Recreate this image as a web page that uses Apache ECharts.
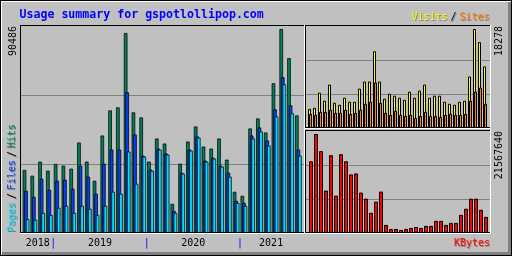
<!DOCTYPE html>
<html><head><meta charset="utf-8">
<script src="https://cdn.jsdelivr.net/npm/echarts@6/dist/echarts.min.js"></script>
<style>html,body{margin:0;padding:0;background:#c0c0c0}#c{width:512px;height:256px}</style>
</head><body><div id="c"></div>
<script>
const months = ['2018-09','2018-10','2018-11','2018-12',
 '2019-01','2019-02','2019-03','2019-04','2019-05','2019-06','2019-07','2019-08','2019-09','2019-10','2019-11','2019-12',
 '2020-01','2020-02','2020-03','2020-04','2020-05','2020-06','2020-07','2020-08','2020-09','2020-10','2020-11','2020-12',
 '2021-01','2021-02','2021-03','2021-04','2021-05','2021-06','2021-07','2021-08'];
const years = ['2018','2019','2020','2021'];
const hits = [28255,25726,31936,27944,30916,30162,28831,40364,31936,23509,43469,54558,55889,88712,53671,51453,31936,42138,39920,13307,31049,40808,47461,38590,37703,42138,32823,18630,16855,46574,51009,44800,66534,90486,77623,52340];
const files = [19073,16412,24396,19517,23509,23952,19960,30162,25283,17742,31049,37259,37259,62542,43912,34598,28388,37703,35485,10202,27057,37259,43025,32380,33711,30162,27057,14637,13750,43469,47017,41251,55001,69195,56776,37259];
const pages = [6520,6210,9315,8428,11533,12420,9315,12420,11089,8428,12420,18630,17742,36372,22178,34154,27944,37259,35041,9315,26614,36815,42582,31936,33267,29719,25283,13750,12420,42138,45243,39033,51897,66090,53227,34598];
const visits = [3693,3877,6647,5170,8124,4800,4431,5724,4985,4985,7385,8678,8678,14217,8678,5539,6462,6093,5724,5354,6831,5724,7016,8124,5724,6093,6093,4985,4616,4431,4985,5170,9601,18278,15878,11447];
const sites = [2769,2585,3139,3139,3508,2954,2954,3508,2769,2954,3508,4616,4985,8493,4800,2954,2585,3323,2585,2400,2585,2031,2400,3139,2400,2400,2216,2585,2769,2585,2585,2769,5170,6831,7570,4616];
const kbytes = [15685560,21567640,17864110,9367765,16992690,8278490,17210545,15685560,12853445,13071300,8932055,7624925,4574955,6971360,9149910,1960695,1089275,1089275,871420,1089275,1307130,1524985,1307130,1742840,1742840,2832115,2832115,1960695,2396405,2396405,4139245,5446375,7624925,7624925,5228520,3703535];
const title = 'Usage summary for gspotlollipop.com';

const C = {hit:'#00805c', file:'#0040ff', page:'#00e0ff', visit:'#ffff00', site:'#ff8000', kb:'#ff0000',
  bg:'#c0c0c0', dk:'#808080', blue:'#0000ff'};
const FONT = '10px "DejaVu Sans Mono"';

const chart = echarts.init(document.getElementById('c'), null, {renderer:'canvas'});
const idx = a => a.map((v,i)=>[i,v]);
const yAx = (g, max) => ({gridIndex:g, type:'value', min:0, max:max, interval:max/3,
  axisLine:{show:false}, axisTick:{show:false}, axisLabel:{show:false},
  splitLine:{show:true, showMinLine:false, showMaxLine:false, lineStyle:{color:C.dk, width:1}}});
const bar = (d, xi, color, w, gap, bw) => ({type:'bar', xAxisIndex:xi, yAxisIndex:xi, data:idx(d),
  barWidth:w, barGap:gap, itemStyle:{color:color, borderColor:'#000', borderWidth:bw}, silent:true});

chart.setOption({
  backgroundColor: C.bg,
  animation: false,
  grid: [
    {left:21, top:26, width:283, height:208},
    {left:306, top:26, width:184, height:103},
    {left:306, top:131, width:184, height:103}
  ],
  xAxis: [
    {gridIndex:0, type:'value', min:-0.649, max:35.726, show:false},
    {gridIndex:1, type:'value', min:-0.8, max:36.0, show:false},
    {gridIndex:2, type:'value', min:-1.0, max:35.8, show:false}
  ],
  yAxis: [yAx(0, 91810), yAx(1, 18826), yAx(2, 22214669)],
  series: [
    bar(hits, 0, C.hit, 3.6, '-56.9%', 0.75),
    bar(files, 0, C.file, 3.6, '-56.9%', 0.75),
    bar(pages, 0, C.page, 3.6, '-56.9%', 0.75),
    bar(visits, 1, C.visit, 3, '-66.667%', 1),
    bar(sites, 1, C.site, 3, '-66.667%', 1),
    bar(kbytes, 2, C.kb, 4, '-50%', 1)
  ]
});

const els = [];
const rect = (x,y,w,h,fill) => els.push({type:'rect', z:100, silent:true, shape:{x,y,width:w,height:h}, style:{fill}});
// outer frame
rect(0,0,512,1,'#000'); rect(0,0,1,256,'#000'); rect(511,0,1,256,'#000'); rect(0,255,512,1,'#000');
rect(1,1,510,1,'#fff'); rect(1,1,1,254,'#fff');
rect(2,252,509,3,C.dk); rect(508,2,3,253,C.dk);
// main panel
rect(21,234,283,1,C.bg);
rect(20,25,285,1,'#000'); rect(20,25,1,209,'#000'); rect(21,232,283,1,'#000');
rect(20,233,285,1,'#fff'); rect(304,25,1,209,'#fff');
// right top
rect(306,129,184,1,C.bg);
rect(305,25,186,1,'#000'); rect(305,25,1,104,'#000'); rect(306,127,184,1,'#000');
rect(305,128,186,1,'#fff'); rect(490,25,1,104,'#fff');
// right bottom
rect(306,234,184,1,C.bg);
rect(305,130,186,1,'#000'); rect(305,130,1,104,'#000'); rect(306,232,184,1,'#000');
rect(305,233,186,1,'#fff'); rect(490,130,1,104,'#fff');

function text(t, x, y, fill, o) {
  o = o || {};
  const el = {type:'text', z:200, silent:true, x:x, y:y, rotation:o.rot||0, scaleY:o.sy||1,
    style:{text:t, fill:fill, font:o.font||FONT, align:o.align||'left', verticalAlign:'middle'}};
  if (o.shadow) {
    const s = JSON.parse(JSON.stringify(el)); s.x += 1; s.y += 1; s.style.fill = C.dk; s.z = 199;
    els.push(s);
  }
  els.push(el);
}
const UP = Math.PI/2;
text(title, 19.5, 15, C.blue, {font:'bold 11.6px "DejaVu Sans Mono"'});
text('Visits', 411.5, 17, C.visit, {shadow:true, sy:1.12});
text('/', 450.5, 17, '#000', {shadow:true, sy:1.12});
text('Sites', 459.5, 17, C.site, {shadow:true, sy:1.12});
// left vertical legend
text('Pages', 12.5, 232, C.page, {rot:UP, shadow:true, sy:1.12});
text('/', 12.5, 199, '#000', {rot:UP, shadow:true, sy:1.12});
text('Files', 12.5, 190, C.file, {rot:UP, shadow:true, sy:1.12});
text('/', 12.5, 157, '#000', {rot:UP, shadow:true, sy:1.12});
text('Hits', 12.5, 148, C.hit, {rot:UP, shadow:true, sy:1.12});
// max labels
text(String(Math.max(...hits)), 13, 26, '#000', {rot:UP, align:'right', sy:1.12});
text(String(Math.max(...visits)), 499, 26, '#000', {rot:UP, align:'right', sy:1.12});
text(String(Math.max(...kbytes)), 499.5, 131, '#000', {rot:UP, align:'right', sy:1.12});
text('KBytes', 490, 243.5, C.kb, {align:'right', shadow:true, sy:1.12});
// year labels and separators from the month categories
const px = v => chart.convertToPixel({xAxisIndex:0}, v);
years.forEach((y, k) => {
  const ids = months.map((m,i)=>m.startsWith(y)?i:-1).filter(i=>i>=0);
  const a = ids[0], b = ids[ids.length-1];
  text(y, (px(a)+px(b))/2, 243.5, '#000', {align:'center', sy:1.12});
  if (k < years.length-1) text('|', px(b+0.5), 243.5, C.blue, {align:'center', sy:1.12});
});
chart.setOption({graphic:{elements:els}});
</script></body></html>
